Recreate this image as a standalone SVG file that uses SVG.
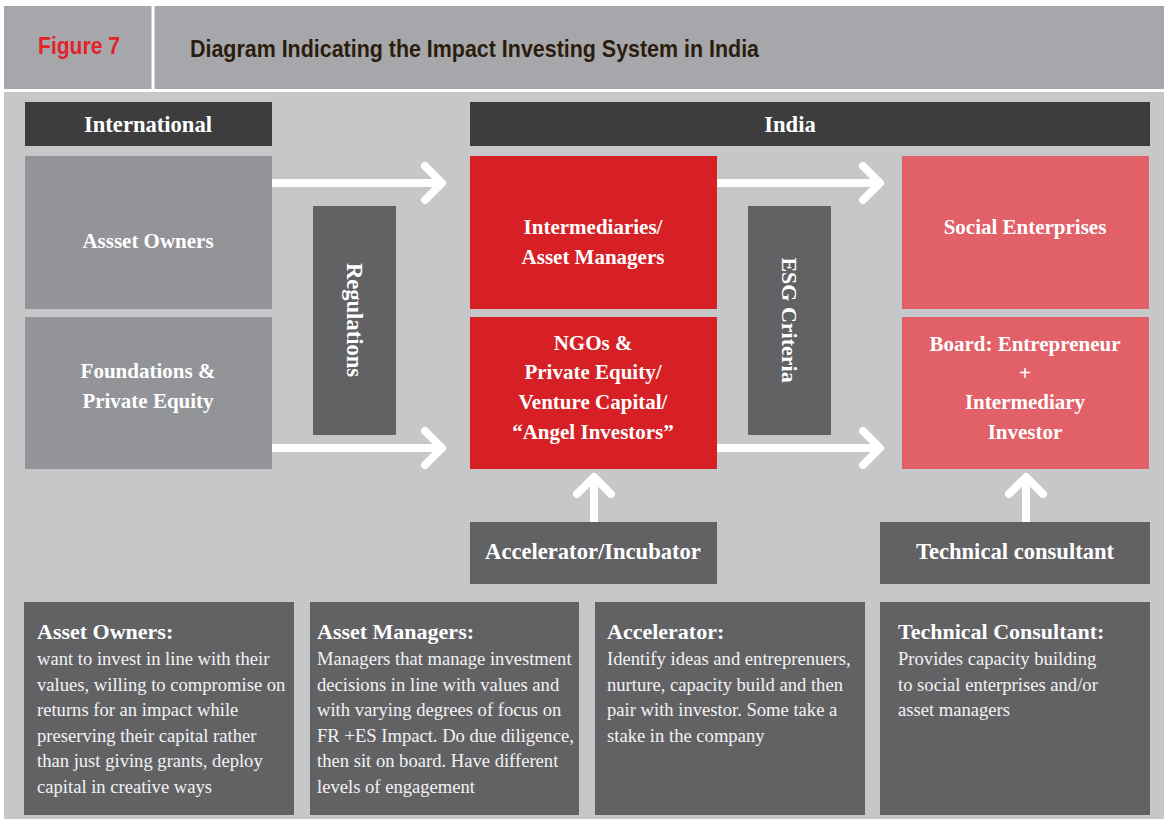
<svg xmlns="http://www.w3.org/2000/svg" width="1164" height="819" viewBox="0 0 1164 819">
<style>
.lbl{font-family:"Liberation Serif",serif;font-weight:bold;fill:#fff;text-anchor:middle;font-size:21px}
.big{font-size:22.6px}
.hd{font-family:"Liberation Serif",serif;font-weight:bold;fill:#fff;font-size:22px}
.bd{font-family:"Liberation Serif",serif;fill:#f2f2f2;font-size:18.6px}
.arr{fill:none;stroke:#fff;stroke-width:8;stroke-linecap:round;stroke-linejoin:round}
.dark{fill:#3d3d3e}.mid{fill:#626265}.own{fill:#939498}.red{fill:#d71f26}.pink{fill:#e26067}
</style>
<rect x="0" y="0" width="1164" height="819" fill="#ffffff"/>
<rect x="4" y="6" width="1160" height="83" fill="#a6a7aa"/>
<rect x="4" y="92" width="1160" height="727" fill="#c6c7c9"/>
<rect x="151.5" y="6" width="3" height="83" fill="#ffffff"/>
<g id="title">
<text x="38" y="53.5" font-family="Liberation Sans,sans-serif" font-weight="bold" font-size="24" fill="#e2232a" textLength="82" lengthAdjust="spacingAndGlyphs">Figure 7</text>
<text x="190" y="56.5" font-family="Liberation Sans,sans-serif" font-weight="bold" font-size="24" fill="#2b1d0e" textLength="569" lengthAdjust="spacingAndGlyphs">Diagram Indicating the Impact Investing System in India</text>
</g>
<g id="connectors">
<path class="arr" d="M272 183H441M425 166L442 183L425 200"/>
<path class="arr" d="M272 448H441M425 431L442 448L425 465"/>
<path class="arr" d="M717 183H879M863 166L880 183L863 200"/>
<path class="arr" d="M717 448H879M863 431L880 448L863 465"/>
<path class="arr" d="M594 522V478M577 494L594 477L611 494"/>
<path class="arr" d="M1026 522V478M1009 494L1026 477L1043 494"/>
</g>
<g id="international"><rect class="dark" x="25" y="102" width="247" height="44"/><text class="lbl big" x="148" y="132">International</text></g>
<g id="india"><rect class="dark" x="470" y="102" width="680" height="44"/><text class="lbl big" x="790" y="132">India</text></g>
<g id="asset-owners"><rect class="own" x="25" y="156" width="247" height="153"/><text class="lbl" x="148" y="248">Assset Owners</text></g>
<g id="foundations"><rect class="own" x="25" y="317" width="247" height="152"/><text class="lbl" x="148" y="378">Foundations &amp;</text><text class="lbl" x="148" y="408">Private Equity</text></g>
<g id="regulations"><rect class="mid" x="313" y="206" width="83" height="229"/><text class="lbl big" transform="translate(347 320) rotate(90)" x="0" y="0">Regulations</text></g>
<g id="intermediaries"><rect class="red" x="470" y="156" width="247" height="153"/><text class="lbl" x="593" y="234">Intermediaries/</text><text class="lbl" x="593" y="264">Asset Managers</text></g>
<g id="ngos"><rect class="red" x="470" y="317" width="247" height="152"/><text class="lbl" x="593" y="350">NGOs &amp;</text><text class="lbl" x="593" y="379">Private Equity/</text><text class="lbl" x="593" y="409">Venture Capital/</text><text class="lbl" x="593" y="439">“Angel Investors”</text></g>
<g id="esg"><rect class="mid" x="748" y="206" width="83" height="229"/><text class="lbl" style="font-size:22px" transform="translate(782 320) rotate(90)" x="0" y="0">ESG Criteria</text></g>
<g id="social-enterprises"><rect class="pink" x="902" y="156" width="247" height="153"/><text class="lbl" x="1025" y="234">Social Enterprises</text></g>
<g id="board"><rect class="pink" x="902" y="317" width="247" height="152"/><text class="lbl" x="1025" y="351">Board: Entrepreneur</text><text class="lbl" x="1025" y="380">+</text><text class="lbl" x="1025" y="409">Intermediary</text><text class="lbl" x="1025" y="439">Investor</text></g>
<g id="accelerator"><rect class="mid" x="470" y="522" width="247" height="62"/><text class="lbl big" x="593" y="559">Accelerator/Incubator</text></g>
<g id="technical"><rect class="mid" x="880" y="522" width="270" height="62"/><text class="lbl big" x="1015" y="559">Technical consultant</text></g>
<g id="desc-owners"><rect class="mid" x="24" y="602" width="270" height="213"/>
<text class="hd" x="37" y="639">Asset Owners:</text>
<text class="bd"><tspan x="37" y="665">want to invest in line with their</tspan><tspan x="37" y="690.5">values, willing to compromise on</tspan><tspan x="37" y="716">returns for an impact while</tspan><tspan x="37" y="741.5">preserving their capital rather</tspan><tspan x="37" y="767">than just giving grants, deploy</tspan><tspan x="37" y="792.5">capital in creative ways</tspan></text></g>
<g id="desc-managers"><rect class="mid" x="310" y="602" width="269" height="213"/>
<text class="hd" x="317" y="639">Asset Managers:</text>
<text class="bd"><tspan x="317" y="665">Managers that manage investment</tspan><tspan x="317" y="690.5">decisions in line with values and</tspan><tspan x="317" y="716">with varying degrees of focus on</tspan><tspan x="317" y="741.5">FR +ES Impact. Do due diligence,</tspan><tspan x="317" y="767">then sit on board. Have different</tspan><tspan x="317" y="792.5">levels of engagement</tspan></text></g>
<g id="desc-accelerator"><rect class="mid" x="595" y="602" width="270" height="213"/>
<text class="hd" x="607" y="639">Accelerator:</text>
<text class="bd"><tspan x="607" y="665">Identify ideas and entreprenuers,</tspan><tspan x="607" y="690.5">nurture, capacity build and then</tspan><tspan x="607" y="716">pair with investor. Some take a</tspan><tspan x="607" y="741.5">stake in the company</tspan></text></g>
<g id="desc-technical"><rect class="mid" x="880" y="602" width="270" height="213"/>
<text class="hd" x="898" y="639">Technical Consultant:</text>
<text class="bd"><tspan x="898" y="665">Provides capacity building</tspan><tspan x="898" y="690.5">to social enterprises and/or</tspan><tspan x="898" y="716">asset managers</tspan></text></g>
</svg>
